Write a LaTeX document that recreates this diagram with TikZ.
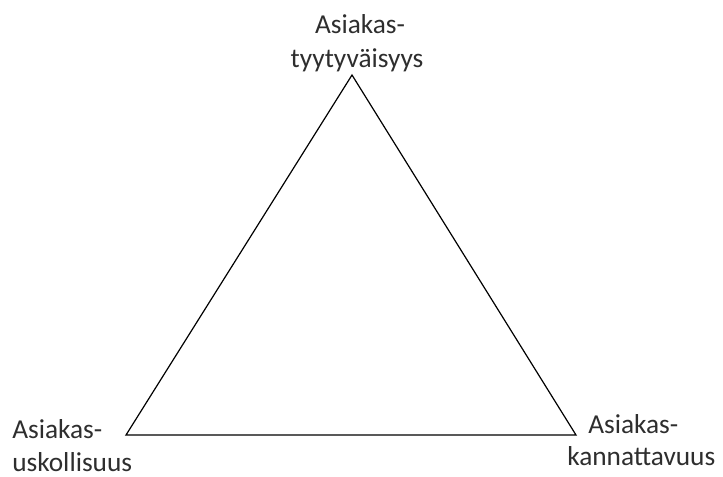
\documentclass[tikz,border=0pt]{standalone}
\usepackage{fontspec}
\setmainfont{Carlito}
\begin{document}
\begin{tikzpicture}[x=0.75pt,y=-0.75pt,
  lbl/.style={font=\fontsize{20.5}{25}\selectfont, text=black!82, inner sep=0pt},
  edge/.style={draw=black, line width=0.9pt}]
\useasboundingbox (0,0) rectangle (723,476);
\fill[white] (0,0) rectangle (723,476);
\coordinate (T) at (352,75);
\coordinate (L) at (126,435);
\coordinate (R) at (576,435);
\draw[edge] (T) -- (L) -- (R) -- cycle;
\node[lbl, anchor=base] (top1) at (360,33) {Asiakas-};
\node[lbl, anchor=base] (top2) at (357,67) {tyytyväisyys};
\node[lbl, anchor=base west] (left1) at (12,438) {Asiakas-};
\node[lbl, anchor=base west] (left2) at (12,471) {uskollisuus};
\node[lbl, anchor=base west] (right1) at (588,433) {Asiakas-};
\node[lbl, anchor=base west] (right2) at (567,465) {kannattavuus};
\end{tikzpicture}
\end{document}
